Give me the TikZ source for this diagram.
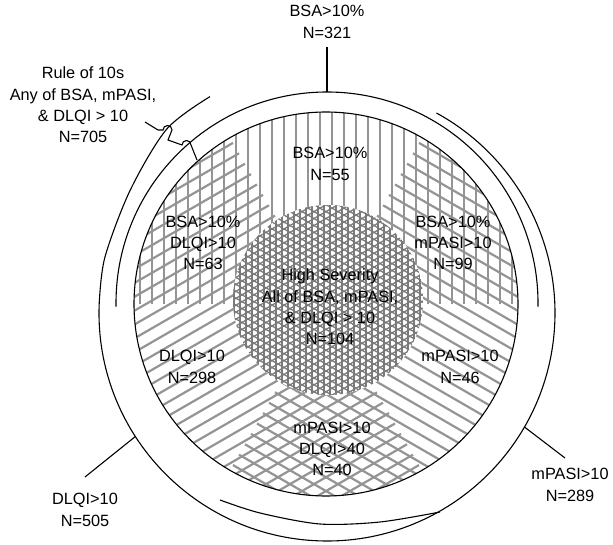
\documentclass[tikz,border=0pt]{standalone}
\usepackage{fontspec}
\setmainfont{Liberation Sans}
\usetikzlibrary{calc}
\begin{document}
\begin{tikzpicture}[x=1pt,y=1pt,
  lab/.style={align=center,font=\fontsize{16.3}{21.3}\selectfont,inner sep=0pt},
  hatch/.style={draw=black!42,line width=2.2pt},
  dense/.style={draw=black!52,line width=1.3pt},
  ln/.style={line width=1.1pt}]
\useasboundingbox (0,0) rectangle (613,544);
\begin{scope}[shift={(326,240)}]
  \foreach \rot/\ang in {0/90,120/30,-120/-30}{
    \begin{scope}
      \clip (0,0) circle (192);
      \clip[rotate=\rot] (-200,0) rectangle (200,200);
      \begin{scope}[rotate=\ang]
        \foreach \d in {-198,-186,...,198}
          \draw[hatch] (-200,\d) -- (200,\d);
      \end{scope}
    \end{scope}
  }
  \fill[white] (2,4) circle (95);
  \begin{scope}
    \clip (2,4) circle (95);
    \foreach \ang in {90,30,-30}{
      \begin{scope}[rotate=\ang]
        \foreach \d in {-100,-94,...,100}
          \draw[dense] (-100,\d) -- (100,\d);
      \end{scope}
    }
  \end{scope}
  \draw[ln] (0,0) circle (192);
\end{scope}
% BSA half ring
\coordinate (A) at (327,241);
\draw[ln] ($(A)+(181:211)$) arc[start angle=181,end angle=-1,radius=211];
% big outer ring
\coordinate (B) at (327,231);
\draw[ln] plot[smooth] coordinates {($(B)+(118.4:246)$) ($(B)+(131:244)$) ($(B)+(148:232)$) ($(B)+(166:229)$) ($(B)+(178:228)$)}
  arc[start angle=178,end angle=421.3,radius=228];
% short bottom arc
\draw[ln] plot[smooth] coordinates {(220,44) (260,31) (320,20) (380,22) (440,32)};
% labels
\node[lab] (bsaout) at (327,522) {BSA>10\%\\N=321};
\node[lab] (rule) at (83,439) {Rule of 10s\\Any of BSA, mPASI,\\\& DLQI > 10\\N=705};
\node[lab] (bsa) at (330,380) {BSA>10\%\\N=55};
\node[lab] (bd) at (203,301) {BSA>10\%\\DLQI>10\\N=63};
\node[lab] (bm) at (453,301) {BSA>10\%\\mPASI>10\\N=99};
\node[lab] (all) at (330,237) {High Severity\\All of BSA, mPASI,\\\& DLQI > 10\\N=104};
\node[lab] (dl) at (192,177) {DLQI>10\\N=298};
\node[lab] (mp) at (460,177) {mPASI>10\\N=46};
\node[lab] (md) at (332,95) {mPASI>10\\DLQI>40\\N=40};
\node[lab] (mpout) at (570,59) {mPASI>10\\N=289};
\node[lab] (dlout) at (85,34) {DLQI>10\\N=505};
% leaders
\coordinate (b1) at (327,497); \coordinate (b2) at ($(A)+(90:211)$);
\coordinate (m1) at ($(B)+(-30:228)$); \coordinate (m2) at (565,86);
\coordinate (d1) at ($(B)+(212.8:228)$); \coordinate (d2) at (85,67);
\draw[ln] (b1) -- (b2);
\draw[ln] (m1) -- (m2);
\draw[ln] (d1) -- (d2);
\coordinate (r0) at (145,422);
\coordinate (r1) at (158,414);
\coordinate (r2) at (163,414);
\coordinate (r3) at (168,404);
\coordinate (r4) at (182,399);
\coordinate (r5) at (197,384);
\draw[ln] (r0) -- (r1) -- (r2) arc[start angle=180,end angle=0,radius=4.5] -- (r3) -- (r4) arc[start angle=180,end angle=0,radius=4.5] -- (r5);
\end{tikzpicture}
\end{document}
